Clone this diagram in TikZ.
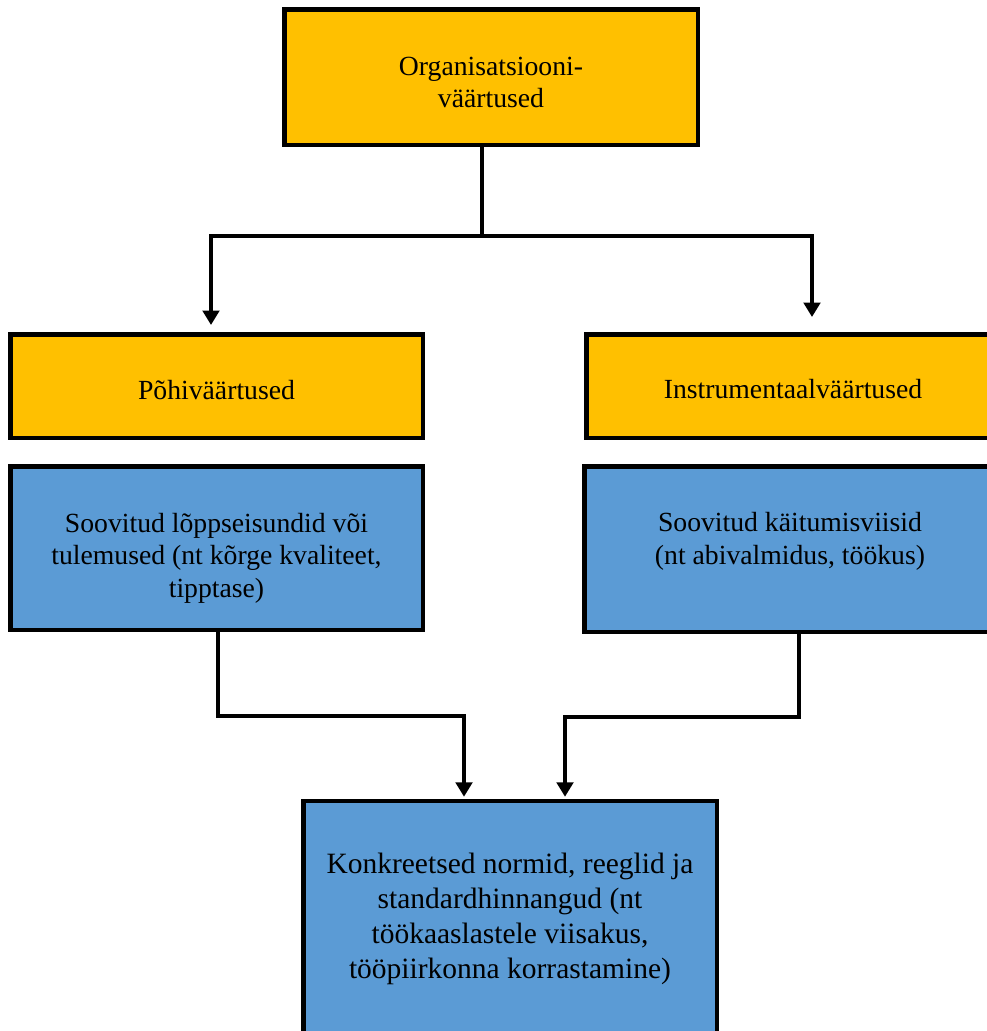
\documentclass[tikz,border=0pt]{standalone}
\usepackage{fontspec}
\setmainfont{Liberation Serif}
\usetikzlibrary{arrows.meta}
\definecolor{boxorange}{HTML}{FFC000}
\definecolor{boxblue}{HTML}{5B9BD5}
\begin{document}
\begin{tikzpicture}[x=1pt,y=-1pt,
  framebox/.style={draw=black, line width=4.5pt, rectangle, inner sep=0pt, line join=miter},
  orangebox/.style={framebox, fill=boxorange},
  bluebox/.style={framebox, fill=boxblue},
  boxtext/.style={align=center, inner sep=0pt, font=\fontsize{27.7}{32.5}\selectfont},
  bigtext/.style={align=center, inner sep=0pt, font=\fontsize{29.5}{35}\selectfont},
  conn/.style={line width=4.5pt, line join=miter, -{Triangle[width=16.5pt,length=14.5pt]}}]
\fill[white] (0,0) rectangle (987,1031);
\useasboundingbox (0,0) rectangle (987,1031);
\clip (0,0) rectangle (987,1031);

% boxes
\node[orangebox, minimum width=413.5pt, minimum height=135.5pt] (org) at (491,77) {};
\node[orangebox, minimum width=412.5pt, minimum height=103.5pt] (pohi) at (216.5,386) {};
\node[orangebox, minimum width=413.5pt, minimum height=103.5pt] (instr) at (793,386) {};
\node[bluebox, minimum width=412.5pt, minimum height=163.5pt] (soovL) at (216.5,548) {};
\node[bluebox, minimum width=415.5pt, minimum height=165.5pt] (soovR) at (792,549) {};
\node[bluebox, minimum width=413.5pt, minimum height=300pt] (konk) at (510,951) {};

% texts
\node[boxtext] (orgT) at (491,82.5) {Organisatsiooni-\\väärtused};
\node[boxtext] (pohiT) at (216.5,390.5) {Põhiväärtused};
\node[boxtext] (instrT) at (793,389.5) {Instrumentaalväärtused};
\node[boxtext] (soovLT) at (216.5,558) {Soovitud lõppseisundid või\\tulemused (nt kõrge kvaliteet,\\tipptase)};
\node[boxtext] (soovRT) at (790,541.5) {Soovitud käitumisviisid\\(nt abivalmidus, töökus)};
\node[bigtext] (konkT) at (510,918.5) {Konkreetsed normid, reeglid ja\\standardhinnangud (nt\\töökaaslastele viisakus,\\tööpiirkonna korrastamine)};

% connector coordinates
\coordinate (j) at (482,236);
\coordinate (aL) at (211,0);
\coordinate (aR) at (812,0);
\coordinate (xL) at (218,0);
\coordinate (xR) at (799,0);
\coordinate (mL) at (464,716);
\coordinate (mR) at (565,717);

% connectors
\draw[conn, shorten >=7pt] (org.south -| j) -- (j) -| (pohi.north -| aL);
\draw[conn, shorten >=15pt] (j) -| (instr.north -| aR);
\draw[conn, shorten >=2pt] (soovL.south -| xL) |- (mL) -- (mL |- konk.north);
\draw[conn, shorten >=2pt] (soovR.south -| xR) |- (mR) -- (mR |- konk.north);
\end{tikzpicture}
\end{document}
